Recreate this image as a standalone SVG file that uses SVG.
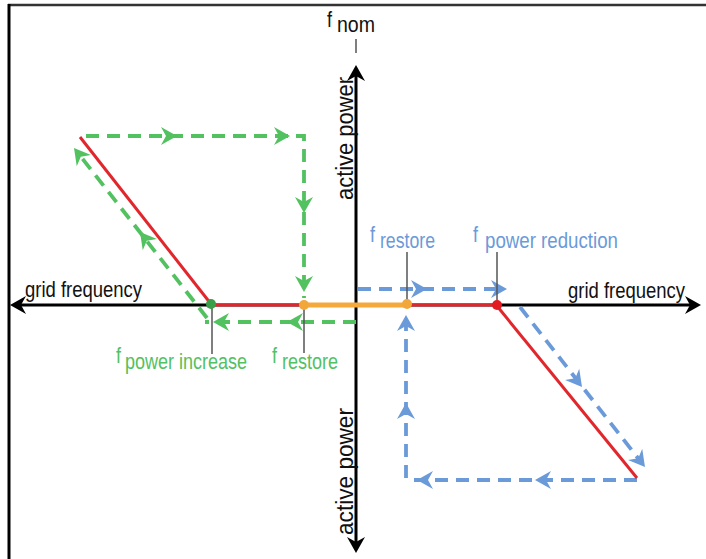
<svg xmlns="http://www.w3.org/2000/svg" xmlns:xlink="http://www.w3.org/1999/xlink" width="706" height="559" viewBox="0 0 706 559">
<style>
  text{font-family:"Liberation Sans","Open Sans",sans-serif}
  .lbl{font-size:19px}
  .vl{font-size:21px}
  .fs{font-size:18px}
  .blk{fill:#111}
  .grn{fill:#52c15f}
  .blu{fill:#6b9ad9}
  .dg{fill:none;stroke:#52c15f;stroke-width:3.8;stroke-dasharray:13 8}
  .db{fill:none;stroke:#6b9ad9;stroke-width:3.8;stroke-dasharray:13 8}
  .axis{fill:none;stroke:#000;stroke-width:3}
  .red{fill:none;stroke:#e1262c;stroke-width:3}
  .tick{fill:none;stroke:#555;stroke-width:1.5}
</style>
<defs>
  <path id="ah" d="M0,0 L-16,-9 L-11,0 L-16,9 Z"/>
  <path id="axh" d="M0,0 L-16,-9 L-11,0 L-16,9 Z"/>
</defs>
<rect width="706" height="559" fill="#fff"/>
<g id="frame">
  <line x1="8" y1="5" x2="706" y2="5" stroke="#333" stroke-width="2.5"/>
  <line x1="9" y1="4" x2="9" y2="559" stroke="#000" stroke-width="3"/>
</g>
<g id="axes">
  <line class="axis" x1="14" y1="305" x2="696" y2="305"/>
  <line class="axis" x1="356" y1="70" x2="356" y2="548"/>
  <use href="#axh" transform="translate(10,305) rotate(180)"/>
  <use href="#axh" transform="translate(701,305)"/>
  <use href="#axh" transform="translate(356,65) rotate(-90)"/>
  <use href="#axh" transform="translate(356,553) rotate(90)"/>
  <line class="tick" x1="356" y1="39" x2="356" y2="53"/>
</g>
<g id="connectors">
  <g id="green-path">
    <polyline class="dg" points="86,136 304,136 304,298"/>
    <polyline class="dg" points="356,322 205,322"/>
    <line class="dg" x1="207" y1="318" x2="78" y2="153"/>
    <use class="grn" href="#ah" transform="translate(177,136)"/>
    <use class="grn" href="#ah" transform="translate(290,136)"/>
    <use class="grn" href="#ah" transform="translate(304,213) rotate(90)"/>
    <use class="grn" href="#ah" transform="translate(304,292) rotate(90)"/>
    <use class="grn" href="#ah" transform="translate(287,322) rotate(180)"/>
    <use class="grn" href="#ah" transform="translate(213,322) rotate(180)"/>
    <use class="grn" href="#ah" transform="translate(140,232) rotate(-128)"/>
    <use class="grn" href="#ah" transform="translate(74,148) rotate(-128)"/>
  </g>
  <g id="blue-path">
    <polyline class="db" points="358,289 500,289"/>
    <line class="db" x1="520" y1="307" x2="641" y2="462"/>
    <polyline class="db" points="637,480 410,480"/>
    <polyline class="db" points="406,478 406,320"/>
    <use class="blu" href="#ah" transform="translate(427,289)"/>
    <use class="blu" href="#ah" transform="translate(507,289)"/>
    <use class="blu" href="#ah" transform="translate(582,387) rotate(52)"/>
    <use class="blu" href="#ah" transform="translate(645,467) rotate(52)"/>
    <use class="blu" href="#ah" transform="translate(535,480) rotate(180)"/>
    <use class="blu" href="#ah" transform="translate(417,480) rotate(180)"/>
    <use class="blu" href="#ah" transform="translate(406,403) rotate(-90)"/>
    <use class="blu" href="#ah" transform="translate(406,315) rotate(-90)"/>
  </g>
  <g id="ticks">
    <line class="tick" x1="212" y1="305" x2="212" y2="354"/>
    <line class="tick" x1="304" y1="305" x2="304" y2="353"/>
    <line class="tick" x1="407" y1="252" x2="407" y2="305"/>
    <line class="tick" x1="497" y1="252" x2="497" y2="305"/>
  </g>
  <g id="curve">
    <line class="red" x1="80" y1="137" x2="211" y2="304"/>
    <line class="red" x1="211" y1="305" x2="304" y2="305"/>
    <line class="red" x1="407" y1="305" x2="497" y2="305"/>
    <line class="red" x1="497" y1="306" x2="637" y2="478"/>
    <line x1="304" y1="305" x2="407" y2="305" stroke="#f5a93b" stroke-width="5"/>
  </g>
</g>
<g id="node-power-increase">
  <circle cx="211" cy="304" r="5" fill="#3a9f48"/>
  <text class="grn" transform="translate(116,363) scale(1,1.2)"><tspan class="fs">f</tspan><tspan class="lbl" x="9" y="5" textLength="122" lengthAdjust="spacingAndGlyphs">power increase</tspan></text>
</g>
<g id="node-restore-green">
  <circle cx="304" cy="305" r="5" fill="#f2a73a"/>
  <text class="grn" transform="translate(272,363) scale(1,1.2)"><tspan class="fs">f</tspan><tspan class="lbl" x="10" y="5" textLength="56" lengthAdjust="spacingAndGlyphs">restore</tspan></text>
</g>
<g id="node-restore-blue">
  <circle cx="407" cy="304" r="5" fill="#f2a73a"/>
  <text class="blu" transform="translate(370,242) scale(1,1.2)"><tspan class="fs">f</tspan><tspan class="lbl" x="10" y="5" textLength="55" lengthAdjust="spacingAndGlyphs">restore</tspan></text>
</g>
<g id="node-power-reduction">
  <circle cx="497" cy="305" r="5" fill="#e21b23"/>
  <text class="blu" transform="translate(473,242) scale(1,1.2)"><tspan class="fs">f</tspan><tspan class="lbl" x="12" y="5" textLength="133" lengthAdjust="spacingAndGlyphs">power reduction</tspan></text>
</g>
<g id="labels">
  <text class="blk" transform="translate(327,27) scale(1,1.2)"><tspan class="fs">f</tspan><tspan class="lbl" x="10" y="4" textLength="38" lengthAdjust="spacingAndGlyphs">nom</tspan></text>
  <text class="lbl blk" transform="translate(25,297) scale(1,1.2)" textLength="117" lengthAdjust="spacingAndGlyphs">grid frequency</text>
  <text class="lbl blk" transform="translate(568,298) scale(1,1.2)" textLength="117" lengthAdjust="spacingAndGlyphs">grid frequency</text>
  <text class="vl blk" transform="translate(353,200) rotate(-90) scale(1,1.12)" textLength="123" lengthAdjust="spacingAndGlyphs">active power</text>
  <text class="vl blk" transform="translate(353,535) rotate(-90) scale(1,1.12)" textLength="127" lengthAdjust="spacingAndGlyphs">active power</text>
</g>
</svg>
